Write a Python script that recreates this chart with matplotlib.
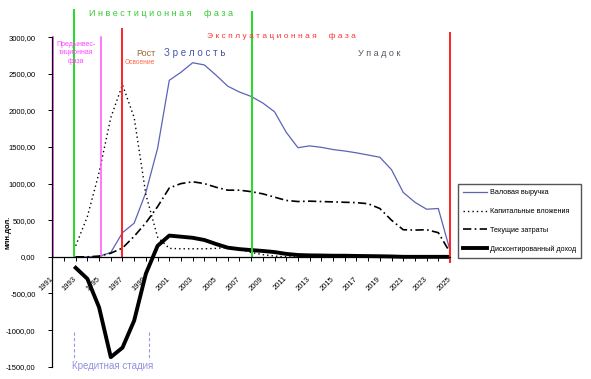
import matplotlib.pyplot as plt
import numpy as np

plt.rcParams['font.family'] = ['Liberation Sans', 'DejaVu Sans']

# data, млн. долл. by year
years = list(range(1991, 2026))
gross_revenue = [np.nan, np.nan, 0, 0, 5, 60, 330, 460, 880, 1480,
                 2410, 2520, 2650, 2620, 2480, 2330, 2250, 2190, 2100, 1980,
                 1700, 1490, 1515, 1495, 1465, 1445, 1420, 1390, 1360, 1190,
                 880, 745, 650, 660, 90]
capital_invest = [np.nan, np.nan, 150, 550, 1150, 1900, 2350, 1900, 850, 270,
                  115, 110, 110, 110, 115, 130, 100, 60, 30, 10,
                  0, 0, 0, 0, 0, 0, 0, 0, 0, 0,
                  0, 0, 0, 0, 0]
current_costs = [np.nan, np.nan, 0, 0, 10, 50, 120, 280, 465, 685,
                 940, 1000, 1025, 1000, 950, 910, 910, 890, 860, 815,
                 770, 755, 760, 755, 750, 745, 740, 725, 660, 500,
                 370, 365, 370, 330, 60]
discounted_income = [np.nan, np.nan, -150, -300, -690, -1370, -1240, -870, -230, 150,
                     290, 275, 260, 230, 175, 125, 105, 92, 80, 65,
                     40, 25, 20, 18, 15, 15, 12, 10, 8, 5,
                     0, 0, 0, 0, 0]
series_names = ["Валовая выручка", "Капитальные вложения",
                "Текущие затраты", "Дисконтированный доход"]
y_ticks = [-1500, -1000, -500, 0, 500, 1000, 1500, 2000, 2500, 3000]

W, H = 591, 379


def px(x, y):
    # pixel position -> figure fraction
    return x / W, 1 - y / H


def spaced(s):
    return " ".join(s)


fig = plt.figure(figsize=(W / 100, H / 100), dpi=100)
ax = fig.add_axes([52.3 / W, 12.3 / H, (450 - 52.3) / W, (366.7 - 37.1) / H])

ax.plot(years, gross_revenue, color="#5a64b4", lw=0.9, label=series_names[0])
ax.plot(years, capital_invest, color="black", lw=1.0, dashes=(1, 2.2), label=series_names[1])
ax.plot(years, current_costs, color="black", lw=1.2, dashes=(5, 2, 1, 2), label=series_names[2])
ax.plot(years, discounted_income, color="black", lw=2.8, label=series_names[3])

ax.set_xlim(1991, 2025)
ax.set_ylim(-1500, 3000)

# phase boundaries
ax.plot([1991.05, 1991.05], [0, 3000], color="#ff55ff", lw=1.3, clip_on=False)
ax.plot([1992.85, 1992.85], [0, 3370], color="#22dd22", lw=1.4, clip_on=False)
ax.plot([1995.15, 1995.15], [0, 3000], color="#ff55ff", lw=1.1, clip_on=False)
ax.plot([1996.95, 1996.95], [0, 3110], color="#ff2222", lw=1.4, clip_on=False)
ax.plot([2008.05, 2008.05], [0, 3340], color="#22dd22", lw=1.4, clip_on=False)
ax.plot([2025.0, 2025.0], [-70, 3050], color="#ff2222", lw=1.4, clip_on=False)

# credit stage markers
ax.plot([1992.85, 1992.85], [-1020, -1410], color="#9999e6", lw=0.8, dashes=(3, 2))
ax.plot([1999.3, 1999.3], [-1020, -1410], color="#9999e6", lw=0.8, dashes=(3, 2))

for s in ["top", "right"]:
    ax.spines[s].set_visible(False)
ax.spines["bottom"].set_position(("data", 0))
ax.spines["bottom"].set_linewidth(0.9)
ax.spines["left"].set_linewidth(0.9)

ax.set_xticks(years)
ax.set_xticklabels([str(y) if (y - 1991) % 2 == 0 else "" for y in years],
                   rotation=45, ha="right", va="center", rotation_mode="anchor")
ax.tick_params(axis="x", direction="out", length=3, width=0.7, pad=12, labelsize=5.5)
ax.set_yticks(y_ticks)
ax.set_yticklabels([f"{v:.2f}".replace(".", ",") for v in y_ticks])
ax.tick_params(axis="y", direction="out", length=3, width=0.7, pad=9, labelsize=5.5)

# phase labels
fig.text(*px(161, 14), spaced("Инвестиционная") + "     " + spaced("фаза"),
         color="#33cc33", fontsize=6.5, ha="center", va="center")
fig.text(*px(281, 37), spaced("Эксплуатационная") + "     " + spaced("фаза"),
         color="#ff3333", fontsize=6.0, ha="center", va="center")
fig.text(*px(76, 53), "Предынвес-\nтиционная\nфаза", color="#ff44ff",
         fontsize=5, ha="center", va="center", linespacing=1.3)
fig.text(*px(146, 53), "Рост", color="#996633", fontsize=6.5, ha="center", va="center")
fig.text(*px(139.5, 63), "Освоение", color="#ff6644", fontsize=4.8, ha="center", va="center")
fig.text(*px(195, 53), spaced("Зрелость"), color="#4455aa", fontsize=7, ha="center", va="center")
fig.text(*px(379, 54), spaced("Упадок"), color="#555566", fontsize=6.5, ha="center", va="center")
fig.text(*px(113, 366), "Кредитная стадия", color="#9090e0", fontsize=7, ha="center", va="center")
fig.text(*px(8, 232), "млн.дол.", rotation=90, fontsize=5.5, fontweight="bold",
         ha="center", va="center")

leg = fig.legend(loc="upper left", bbox_to_anchor=px(457.7, 184), borderaxespad=0,
                 fontsize=5.2, handlelength=3.3, handletextpad=0.4, labelspacing=1.6,
                 fancybox=False, borderpad=0.75, framealpha=1)
leg.get_frame().set_edgecolor("#555555")
leg.get_frame().set_linewidth(1.0)

fig.savefig("out.png", dpi=100)
